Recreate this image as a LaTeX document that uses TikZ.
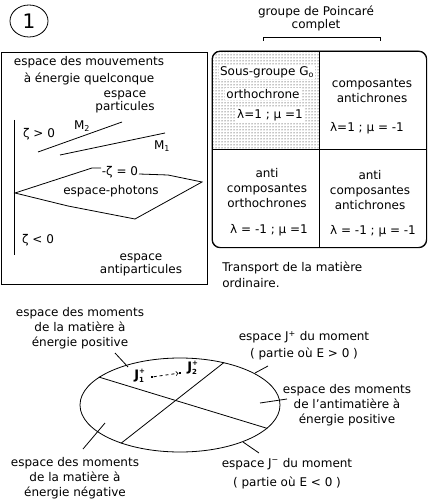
\documentclass[tikz,border=0pt]{standalone}
\usepackage{fontspec}
\setmainfont{DejaVu Sans}
\usetikzlibrary{shapes.geometric,patterns}
\tikzstyle{txt} = [inner sep=0pt, align=center, font=\fontsize{12}{15}\selectfont]
\tikzstyle{cell} = [txt, fill=white, inner sep=1pt]
\tikzstyle{leader} = [line width=0.8pt]
\newcommand{\Jmom}[1]{$\mbox{\bfseries J}^{\mbox{\bfseries\scriptsize +}}_{\mbox{\bfseries\scriptsize #1}}$}

\begin{document}
\begin{tikzpicture}[x=1pt, y=-1pt, line width=0.8pt]
    \useasboundingbox (0,0) rectangle (428,502);
    \node[draw, ellipse, minimum width=38, minimum height=32, inner sep=0pt, font=\fontsize{20}{24}\selectfont] (num) at (29,21) {1};

    % espace des mouvements
    \node[draw, minimum width=206, minimum height=232, anchor=north west, inner sep=0pt] (mouv) at (1,52) {};
    \node[txt] (mouv1) at (89,62) {espace des mouvements};
    \node[txt] (mouv2) at (89,79) {à énergie quelconque};
    \node[txt, font=\fontsize{12}{13}\selectfont] (part) at (125,101.5) {espace\\particules};
    \node[txt] (zpos) at (39,134) {ζ > 0};
    \node[txt] (m2) at (82,126) {M\textsubscript{2}};
    \node[txt] (m1) at (162,146) {M\textsubscript{1}};
    \draw (14,120) -- (14,255);
    \draw (38,152) -- (122,122);
    \draw (60,155) -- (165,133);
    \draw (101,168) -- (92,168) -- (15,193) -- (68,206) -- (135,219) -- (202,182) -- (168,175) -- (139,174);
    \node[txt] (zero) at (120,172) {-ζ = 0};
    \node[txt] (phot) at (111,191) {espace-photons};
    \node[txt] (zneg) at (38,240) {ζ < 0};
    \node[txt, font=\fontsize{12}{13}\selectfont] (anti) at (141,264.5) {espace\\antiparticules};

    % groupe de Poincare
    \node[txt, font=\fontsize{12}{13}\selectfont] (poinc) at (316,18.5) {groupe de Poincaré\\complet};
    \draw (263,41) |- (380,37) -- (380,41);
    \node[draw, rounded corners=8, minimum width=214, minimum height=196, anchor=north west, inner sep=0pt] (groupe) at (212,51) {};
    \begin{scope}
        \clip[rounded corners=8] (groupe.north west) rectangle (groupe.south east);
        \fill[pattern=dots] (groupe.north west) rectangle (groupe.center);
    \end{scope}
    \draw[rounded corners=8] (groupe.north west) rectangle (groupe.south east);
    \draw (groupe.north) -- (groupe.south);
    \draw (groupe.west) -- (groupe.east);
    \node[cell] (sg) at (267,72) {Sous-groupe G\textsubscript{o}};
    \node[cell] (orth) at (263,94) {orthochrone};
    \node[cell] (lm1) at (270,115) {λ=1 ;  μ =1};
    \node[txt] (comp1) at (372,90.5) {composantes\\antichrones};
    \node[txt] (lm2) at (367,128) {λ=1 ; μ  = -1};
    \node[txt] (comp2) at (267,188) {anti\\composantes\\orthochrones};
    \node[txt] (lm3) at (269,230) {λ = -1 ; μ =1};
    \node[txt] (comp3) at (370,190) {anti\\composantes\\antichrones};
    \node[txt] (lm4) at (373,231) {λ = -1 ; μ = -1};
    \node[txt, align=left, anchor=west, font=\fontsize{12}{16}\selectfont] (transp) at (222,275) {Transport de la matière\\ordinaire.};

    % espace des moments
    \node[draw, ellipse, minimum width=200, minimum height=94, inner sep=0pt] (mom) at (180,405) {};
    \draw (mom.161) -- (mom.-15);
    \draw (mom.213) -- (mom.44);
    \node[txt, font=\fontsize{13}{15}\selectfont] (jun) at (140,376) {\Jmom{1}};
    \node[fill, inner sep=1.2pt] (d1) at (152,377) {};
    \node[fill, inner sep=1.2pt] (d2) at (180,373) {};
    \draw[dashed, ->] (d1) -- (d2);
    \node[txt, font=\fontsize{13}{15}\selectfont] (jdeux) at (193,368) {\Jmom{2}};

    \node[txt] (matpos) at (80,328) {espace des moments\\de la matière à\\énergie positive};
    \node[txt] (matneg) at (75,478) {espace des moments\\de la matière à\\énergie négative};
    \node[txt, font=\fontsize{12}{17}\selectfont] (jplus) at (304,345.5) {espace J\textsuperscript{+} du moment\\( partie où E > 0 )};
    \node[txt] (antipos) at (347,405) {espace des moments\\de l'antimatière à\\énergie positive};
    \node[txt, font=\fontsize{12}{19}\selectfont] (jmoins) at (287,473.5) {espace J\textsuperscript{−} du moment\\( partie où E < 0 )};

    \coordinate (a1) at (115,353); \coordinate (a2) at (128,367);
    \coordinate (b1) at (83,449);  \coordinate (b2) at (105,423);
    \coordinate (c1) at (255,373); \coordinate (c2) at (268,366);
    \coordinate (e1) at (260,403); \coordinate (e2) at (287,399);
    \coordinate (f1) at (243,442); \coordinate (f2) at (259,453);
    \draw[leader] (a1) -- (a2);
    \draw[leader] (b1) -- (b2);
    \draw[leader] (c1) -- (c2);
    \draw[leader] (e1) -- (e2);
    \draw[leader] (f1) -- (f2);
\end{tikzpicture}
\end{document}
